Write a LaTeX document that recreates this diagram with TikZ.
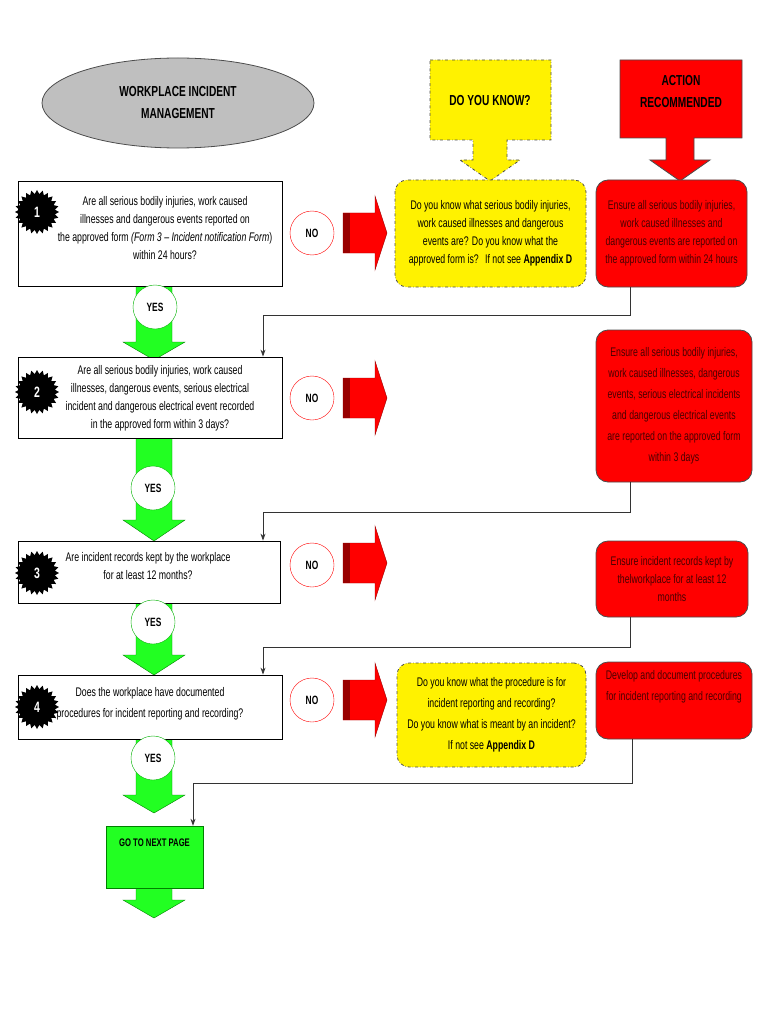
\documentclass[tikz,border=0pt]{standalone}
\usepackage{fontspec}
\setmainfont{Liberation Sans}[FakeStretch=0.7]
\usetikzlibrary{shapes.geometric, arrows.meta}
\definecolor{ygreen}{HTML}{22FF22}
\definecolor{dred}{HTML}{4A0000}
\tikzset{
  txt/.style={align=center, font=\fontsize{12.5}{18}\selectfont},
  q/.style={draw, thick, fill=white, inner sep=0pt},
  yesc/.style={circle, draw=green!70!black, fill=white, minimum size=44pt, font=\bfseries\fontsize{12}{12}\selectfont},
  noc/.style={circle, draw=red, fill=white, minimum size=44pt, font=\bfseries\fontsize{12}{12}\selectfont},
  ybox/.style={draw=black!70, dash dot, thick, fill=yellow, rounded corners=12pt, txt, inner sep=0pt},
  rbox/.style={draw=black!70, thick, fill=red, rounded corners=12pt, txt, text=dred, inner sep=0pt},
  conn/.style={black!80, thick, -{Stealth[length=7pt,width=5pt]}},
  garrow/.style={fill=ygreen, draw=green!50!black}
}
\newcommand{\greendown}[3]{% top y, head y, tip y
  \fill[garrow] (136,#1) -- (172,#1) -- (172,#2) -- (185,#2) -- (154,#3) -- (123,#2) -- (136,#2) -- cycle;}
\newcommand{\redright}[1]{% centre y
  \fill[red, draw=red!60!black] (343,#1-20) -- (375,#1-20) -- (375,#1-37) -- (387,#1) -- (375,#1+37) -- (375,#1+20) -- (343,#1+20) -- cycle;
  \fill[red!60!black] (343,#1-20) rectangle (350,#1+20);}
\newcommand{\burst}[2]{% centre x,y
  \fill[black] (#1,#2) +(0:22) \foreach \k in {1,...,48}{ -- +({\k*7.5}:{ifthenelse(mod(\k,2)==1,18,22)}) } -- cycle;}
\begin{document}
\begin{tikzpicture}[x=1pt, y=-1pt]
\useasboundingbox (0,0) rectangle (768,1024);

% title
\node (title) [ellipse, draw=black!70, thick, fill=black!25, minimum width=272pt, minimum height=90pt, align=center, font=\bfseries\fontsize{14.5}{22}\selectfont] at (178,103) {WORKPLACE INCIDENT\\MANAGEMENT};

% banners
\filldraw[fill=yellow, draw=black!70, dash dot, thick] (430,60) -- (551,60) -- (551,140) -- (507,140) -- (507,160) -- (520,160) -- (490,181) -- (460,160) -- (473,160) -- (473,140) -- (430,140) -- cycle;
\node (dyk) [font=\bfseries\fontsize{14.5}{18}\selectfont] at (490,101) {DO YOU KNOW?};
\filldraw[fill=red, draw=black!70, thick] (620,60) -- (742,60) -- (742,138) -- (694,138) -- (694,160) -- (710,160) -- (680,181) -- (650,160) -- (666,160) -- (666,138) -- (620,138) -- cycle;
\node (act) [align=center, font=\bfseries\fontsize{14.5}{22}\selectfont] at (681,92) {ACTION\\RECOMMENDED};

% green arrows
\greendown{286}{342}{360}
\greendown{438}{520}{541}
\greendown{603}{655}{675}
\greendown{739}{795}{813}
\fill[garrow] (136,888) -- (172,888) -- (172,900) -- (185,900) -- (154,918) -- (123,900) -- (136,900) -- cycle;
\node (next) [draw=green!50!black, fill=ygreen, minimum width=97pt, minimum height=62pt, inner sep=0pt] at (154.5,857) {};
\node at (154.5,843) {\bfseries\fontsize{11}{12}\selectfont GO TO NEXT PAGE};

% questions
\node (q1) [q, minimum width=264pt, minimum height=105pt] at (150,233.5) {};
\node at (165,228) [txt] {Are all serious bodily injuries, work caused\\illnesses and dangerous events reported on\\the approved form \textit{(Form 3 -- Incident notification Form})\\within 24 hours?};
\node (q2) [q, minimum width=264pt, minimum height=81pt] at (150,397.5) {};
\node at (160,398) [txt] {Are all serious bodily injuries, work caused\\illnesses, dangerous events, serious electrical\\incident and dangerous electrical event recorded\\in the approved form within 3 days?};
\node (q3) [q, minimum width=262pt, minimum height=62pt] at (149,572) {};
\node at (148,566) [txt] {Are incident records kept by the workplace\\for at least 12 months?};
\node (q4) [q, minimum width=264pt, minimum height=64pt] at (150,707) {};
\node at (150,704) [txt, font=\fontsize{12.5}{21}\selectfont] {Does the workplace have documented\\procedures for incident reporting and recording?};

% number bursts
\foreach \n/\yy in {1/212, 2/392, 3/573, 4/707}{
  \burst{37}{\yy}
  \node (n\n) [text=white, font=\bfseries\fontsize{15}{16}\selectfont] at (37,\yy) {\n};
}

% yes / no circles
\node (y1) [yesc] at (155,307) {YES};
\node (y2) [yesc] at (153,488) {YES};
\node (y3) [yesc] at (153,622) {YES};
\node (y4) [yesc] at (153,758) {YES};
\node (no1) [noc] at (312,233) {NO};
\node (no2) [noc] at (312,398) {NO};
\node (no3) [noc] at (312,565) {NO};
\node (no4) [noc] at (312,700) {NO};

% red arrows
\redright{233}
\redright{398}
\redright{563}
\redright{700}

% do you know boxes
\node (k1) [ybox, minimum width=191pt, minimum height=107pt] at (490.5,233.5) {Do you know what serious bodily injuries,\\work caused illnesses and dangerous\\events are? Do you know what the\\approved form is?\enspace If not see \textbf{Appendix D}};
\node (k4) [ybox, minimum width=189pt, minimum height=104pt, font=\fontsize{12.5}{21}\selectfont] at (491.5,715) {Do you know what the procedure is for\\incident reporting and recording?\\Do you know what is meant by an incident?\\If not see \textbf{Appendix D}};

% action boxes
\node (a1) [rbox, minimum width=151pt, minimum height=107pt] at (671.5,233.5) {Ensure all serious bodily injuries,\\work caused illnesses and\\dangerous events are reported on\\the approved form within 24 hours};
\node (a2) [rbox, minimum width=156pt, minimum height=152pt, font=\fontsize{12.5}{21}\selectfont] at (674,406) {Ensure all serious bodily injuries,\\work caused illnesses, dangerous\\events, serious electrical incidents\\and dangerous electrical events\\are reported on the approved form\\within 3 days};
\node (a3) [rbox, minimum width=152pt, minimum height=76pt] at (672,579) {Ensure incident records kept by\\thelworkplace for at least 12\\months};
\node (a4) [rbox, minimum width=156pt, minimum height=77pt, text depth=30pt, font=\fontsize{12.5}{21}\selectfont] at (674,700.5) {Develop and document procedures\\for incident reporting and recording};

% connectors
\draw[conn] (a1.south -| 630,0) |- (263,315) -- (q2.north -| 263,0);
\draw[conn] (a2.south -| 630,0) |- (263,512) -- (q3.north -| 263,0);
\draw[conn] (a3.south -| 630,0) |- (263,647) -- (q4.north -| 263,0);
\draw[conn] (a4.south -| 632,0) |- (193,783) -- (next.north -| 193,0);
\end{tikzpicture}
\end{document}
